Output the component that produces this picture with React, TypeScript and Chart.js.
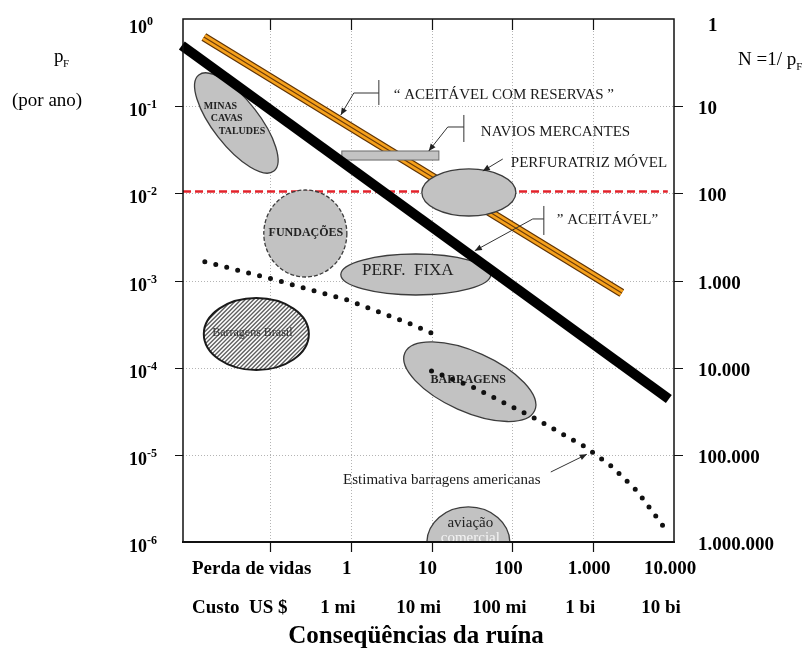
import React, { useEffect, useRef } from 'react';
import { Chart, registerables } from 'chart.js';

Chart.register(...registerables);

const SERIF = '"Liberation Serif", "Times New Roman", Times, serif';

// ---- axis decades -------------------------------------------------------
const lifeValues = [1, 10, 100, 1000, 10000];
const lifeLabels = ['1', '10', '100', '1.000', '10.000'];
const costLabels = ['1 mi', '10 mi', '100 mi', '1 bi', '10 bi'];
const gridLifeValues = [0.1, 1, 10, 100, 1000];
const probExponents = [0, -1, -2, -3, -4, -5, -6];
const returnPeriodLabels = ['1', '10', '100', '1.000', '10.000', '100.000', '1.000.000'];

// ---- criteria lines (consequence, annual probability) -------------------
const acceptableLimit = [
  { x: 0.0081, y: 0.497 },
  { x: 8630, y: 4.37e-5 },
];
const acceptableWithReserves = [
  { x: 0.01517, y: 0.6216 },
  { x: 2259, y: 7.19e-4 },
];
const referenceLevel = [
  { x: 0.00838, y: 0.0105 },
  { x: 8380, y: 0.0105 },
];

// ---- dam failure trends ---------------------------------------------------
const damTrendUpper = [
  { x: 0.0156, y: 0.001644 },
  { x: 0.102, y: 0.00105 },
  { x: 0.91, y: 0.000597 },
  { x: 5.53, y: 0.000317 },
  { x: 9.97, y: 0.00025 },
];
const usDamsEstimate = [
  { x: 9.97, y: 9.16e-5 },
  { x: 33.6, y: 5.89e-5 },
  { x: 189, y: 2.63e-5 },
  { x: 787, y: 1.24e-5 },
  { x: 1714, y: 7.31e-6 },
  { x: 3466, y: 3.88e-6 },
  { x: 7690, y: 1.44e-6 },
];

// ---- activity regions: centre (consequence, probability) -----------------
const regionCenters = {
  minas: { x: 0.0383, y: 0.0641 },
  fundacoes: { x: 0.2735, y: 0.00346 },
  perfMovel: { x: 28.9, y: 0.01023 },
  perfFixa: { x: 6.37, y: 0.001172 },
  barragensBrasil: { x: 0.0677, y: 2.43e-4 },
  barragens: { x: 29.7, y: 6.9e-5 },
  aviacao: { x: 28.5, y: 9.75e-7 },
};
const merchantShips = { x0: 0.774, x1: 12.3, yTop: 0.0306, yBottom: 0.0241 };

// region outline sizes, in decades of each axis
const regionShapes = [
  { id: 'minas', rx: 0.755, ry: 0.264, angle: 52 },
  { id: 'fundacoes', rx: 0.514, ry: 0.499, dashed: true },
  { id: 'perfMovel', rx: 0.582, ry: 0.27 },
  { id: 'perfFixa', rx: 0.928, ry: 0.235 },
  { id: 'barragensBrasil', rx: 0.65, ry: 0.413, hatch: true },
  { id: 'barragens', rx: 0.879, ry: 0.344, angle: 24 },
  { id: 'aviacao', rx: 0.514, ry: 0.413 },
];

// region captions, placed in log10 coordinates
const regionCaptions = [
  { text: 'MINAS', lx: -1.819, ly: -0.998, font: 'bold 10px', align: 'left', color: '#222' },
  { text: 'CAVAS', lx: -1.733, ly: -1.136, font: 'bold 10px', align: 'left', color: '#222' },
  { text: 'TALUDES', lx: -1.634, ly: -1.285, font: 'bold 10px', align: 'left', color: '#222' },
  { text: 'FUNDAÇÕES', lx: -0.556, ly: -2.458, font: 'bold 12px', align: 'center', color: '#222' },
  { text: 'PERF.  FIXA', lx: 0.705, ly: -2.891, font: '17px', align: 'center', color: '#222' },
  { text: 'Barragens Brasil', lx: -1.219, ly: -3.602, font: '12px', align: 'center', color: '#333' },
  { text: 'BARRAGENS', lx: 1.454, ly: -4.141, font: 'bold 12px', align: 'center', color: '#222' },
  { text: 'aviação', lx: 1.479, ly: -5.782, font: '15px', align: 'center', color: '#222' },
  { text: 'comercial', lx: 1.479, ly: -5.954, font: '15px', align: 'center', color: '#f4f4f4' },
];

// callout texts and leader lines, in log10 coordinates
const calloutTexts = [
  { text: '\u201C ACEITÁVEL COM RESERVAS \u201D', lx: 0.532, ly: -0.872, align: 'left' },
  { text: 'NAVIOS MERCANTES', lx: 1.609, ly: -1.296, align: 'left' },
  { text: 'PERFURATRIZ MÓVEL', lx: 1.98, ly: -1.652, align: 'left' },
  { text: '\u201D ACEITÁVEL\u201D', lx: 2.55, ly: -2.306, align: 'left' },
  { text: 'Estimativa barragens americanas', lx: 1.126, ly: -5.289, align: 'center' },
];
const calloutBars = [
  [[0.347, -0.7], [0.347, -0.987]],
  [[1.399, -1.101], [1.399, -1.411]],
  [[2.389, -2.145], [2.389, -2.478]],
];
const calloutArrows = [
  [[0.347, -0.849], [0.037, -0.849], [-0.124, -1.101]],
  [[1.399, -1.239], [1.2, -1.239], [0.965, -1.514]],
  [[1.881, -1.606], [1.634, -1.744]],
  [[2.389, -2.294], [2.252, -2.294], [1.535, -2.658]],
  [[2.475, -5.197], [2.921, -4.994]],
];

const X_MIN = Math.pow(10, -2.077);
const X_MAX = 10000;
const Y_MIN = 1e-6;
const Y_MAX = 1;

function fmtFont(f: string) {
  return `${f} ${SERIF}`;
}

const riskPlugin = {
  id: 'riskChart',
  beforeDatasetsDraw(chart: any) {
    const { ctx, chartArea: a, scales } = chart;
    ctx.save();
    ctx.strokeStyle = '#b4b4b4';
    ctx.lineWidth = 1;
    ctx.setLineDash([1, 2]);
    gridLifeValues.forEach((v) => {
      const x = Math.round(scales.x.getPixelForValue(v)) + 0.5;
      ctx.beginPath();
      ctx.moveTo(x, a.top);
      ctx.lineTo(x, a.bottom);
      ctx.stroke();
    });
    probExponents.forEach((e) => {
      if (e === 0 || e === -6) return;
      const y = Math.round(scales.y.getPixelForValue(Math.pow(10, e))) + 0.5;
      ctx.beginPath();
      ctx.moveTo(a.left, y);
      ctx.lineTo(a.right, y);
      ctx.stroke();
    });
    ctx.restore();
  },
  afterDatasetDraw(chart: any, args: any) {
    if (args.index !== 3) return;
    const { ctx, chartArea: a, scales } = chart;
    const X = (v: number) => scales.x.getPixelForValue(v);
    const Y = (v: number) => scales.y.getPixelForValue(v);
    ctx.save();
    ctx.beginPath();
    ctx.rect(a.left, a.top, a.right - a.left, a.bottom - a.top);
    ctx.clip();

    regionShapes.forEach((s: any) => {
      const c = (regionCenters as any)[s.id];
      const cx = X(c.x);
      const cy = Y(c.y);
      const rx = X(c.x * Math.pow(10, s.rx)) - cx;
      const ry = cy - Y(c.y * Math.pow(10, s.ry));
      const rot = ((s.angle || 0) * Math.PI) / 180;
      const path = () => {
        ctx.beginPath();
        ctx.ellipse(cx, cy, rx, ry, rot, 0, Math.PI * 2);
      };
      path();
      if (s.hatch) {
        ctx.fillStyle = '#ffffff';
        ctx.fill();
        ctx.save();
        ctx.clip();
        ctx.strokeStyle = '#5e5e5e';
        ctx.lineWidth = 1.4;
        for (let d = -rx - ry - 20; d < rx + ry + 20; d += 4.2) {
          ctx.beginPath();
          ctx.moveTo(cx + d - 120, cy + 120);
          ctx.lineTo(cx + d + 120, cy - 120);
          ctx.stroke();
        }
        ctx.restore();
        path();
        ctx.strokeStyle = '#1a1a1a';
        ctx.lineWidth = 2;
        ctx.stroke();
      } else {
        ctx.fillStyle = '#c2c2c2';
        ctx.fill();
        ctx.strokeStyle = '#3c3c3c';
        ctx.lineWidth = 1.3;
        if (s.dashed) ctx.setLineDash([4, 2]);
        ctx.stroke();
        ctx.setLineDash([]);
      }
    });

    // merchant ships bar
    const bx0 = X(merchantShips.x0);
    const bx1 = X(merchantShips.x1);
    const by0 = Y(merchantShips.yTop);
    const by1 = Y(merchantShips.yBottom);
    ctx.fillStyle = '#c3c3c3';
    ctx.fillRect(bx0, by0, bx1 - bx0, by1 - by0);
    ctx.strokeStyle = '#6a6a6a';
    ctx.lineWidth = 1;
    ctx.strokeRect(bx0, by0, bx1 - bx0, by1 - by0);

    // captions inside regions
    ctx.textBaseline = 'middle';
    regionCaptions.forEach((c) => {
      ctx.font = fmtFont(c.font);
      ctx.fillStyle = c.color;
      ctx.textAlign = c.align as CanvasTextAlign;
      ctx.fillText(c.text, X(Math.pow(10, c.lx)), Y(Math.pow(10, c.ly)));
    });
    ctx.restore();
  },
  afterDatasetsDraw(chart: any) {
    const { ctx, chartArea: a, scales } = chart;
    const X = (v: number) => scales.x.getPixelForValue(v);
    const Y = (v: number) => scales.y.getPixelForValue(v);
    const P = (p: number[]) => [X(Math.pow(10, p[0])), Y(Math.pow(10, p[1]))];
    ctx.save();

    // leader lines
    ctx.strokeStyle = '#333';
    ctx.fillStyle = '#222';
    ctx.lineWidth = 1;
    calloutBars.forEach((bar) => {
      const [x0, y0] = P(bar[0]);
      const [x1, y1] = P(bar[1]);
      ctx.beginPath();
      ctx.moveTo(x0, y0);
      ctx.lineTo(x1, y1);
      ctx.stroke();
    });
    calloutArrows.forEach((pts) => {
      const pp = pts.map(P);
      ctx.beginPath();
      pp.forEach(([x, y], i) => (i ? ctx.lineTo(x, y) : ctx.moveTo(x, y)));
      ctx.stroke();
      const [xa, ya] = pp[pp.length - 2];
      const [xb, yb] = pp[pp.length - 1];
      const ang = Math.atan2(yb - ya, xb - xa);
      const len = 7;
      const w = 3;
      ctx.beginPath();
      ctx.moveTo(xb, yb);
      ctx.lineTo(xb - len * Math.cos(ang) + w * Math.sin(ang), yb - len * Math.sin(ang) - w * Math.cos(ang));
      ctx.lineTo(xb - len * Math.cos(ang) - w * Math.sin(ang), yb - len * Math.sin(ang) + w * Math.cos(ang));
      ctx.closePath();
      ctx.fill();
    });

    ctx.textBaseline = 'middle';
    ctx.font = `15px ${SERIF}`;
    ctx.fillStyle = '#1a1a1a';
    calloutTexts.forEach((t) => {
      ctx.textAlign = t.align as CanvasTextAlign;
      const [x, y] = P([t.lx, t.ly]);
      ctx.fillText(t.text, x, y);
    });

    // frame
    ctx.strokeStyle = '#111';
    ctx.lineWidth = 1.5;
    ctx.strokeRect(a.left, a.top, a.right - a.left, a.bottom - a.top);
    ctx.lineWidth = 2;
    ctx.beginPath();
    ctx.moveTo(a.left - 1, a.bottom);
    ctx.lineTo(a.right + 1, a.bottom);
    ctx.stroke();

    // tick marks
    ctx.lineWidth = 1.2;
    gridLifeValues.forEach((v) => {
      const x = Math.round(X(v)) + 0.5;
      ctx.beginPath();
      ctx.moveTo(x, a.bottom);
      ctx.lineTo(x, a.bottom + 10);
      ctx.moveTo(x, a.top);
      ctx.lineTo(x, a.top + 11);
      ctx.stroke();
    });
    probExponents.forEach((e) => {
      if (e === 0 || e === -6) return;
      const y = Math.round(Y(Math.pow(10, e))) + 0.5;
      ctx.beginPath();
      ctx.moveTo(a.left - 8, y);
      ctx.lineTo(a.left, y);
      ctx.moveTo(a.right, y);
      ctx.lineTo(a.right + 9, y);
      ctx.stroke();
    });

    // left axis: powers of ten
    ctx.fillStyle = '#000';
    ctx.textAlign = 'left';
    ctx.textBaseline = 'alphabetic';
    probExponents.forEach((e) => {
      const y = Y(Math.pow(10, e));
      const base = Math.max(y + 10, a.top + 14);
      ctx.font = `bold 18px ${SERIF}`;
      ctx.fillText('10', 129, base);
      const w = ctx.measureText('10').width;
      ctx.font = `bold 12px ${SERIF}`;
      ctx.fillText(String(e), 129 + w, base - 8);
    });

    // right axis: return period N = 1/pF
    ctx.font = `bold 19px ${SERIF}`;
    probExponents.forEach((e, i) => {
      const y = Y(Math.pow(10, e));
      const base = Math.max(y + 8, a.top + 12);
      ctx.fillText(returnPeriodLabels[i], i === 0 ? 708 : 698, base);
    });

    // bottom rows
    ctx.font = `bold 19px ${SERIF}`;
    ctx.textAlign = 'left';
    ctx.fillText('Perda de vidas', 192, 574);
    ctx.fillText('Custo  US $', 192, 613);
    ctx.textAlign = 'center';
    lifeValues.forEach((v, i) => {
      const x = X(v);
      ctx.fillText(lifeLabels[i], x - 4, 574);
      ctx.fillText(costLabels[i], x - 13, 613);
    });
    ctx.font = `bold 25px ${SERIF}`;
    ctx.fillText('Conseqüências da ruína', 416, 643);

    // axis titles
    ctx.textAlign = 'left';
    ctx.font = `19px ${SERIF}`;
    ctx.fillText('p', 54, 62);
    ctx.font = `11px ${SERIF}`;
    ctx.fillText('F', 63, 67);
    ctx.font = `19px ${SERIF}`;
    ctx.fillText('(por ano)', 12, 106);
    ctx.fillText('N =1/ p', 738, 65);
    const nw = ctx.measureText('N =1/ p').width;
    ctx.font = `11px ${SERIF}`;
    ctx.fillText('F', 738 + nw, 70);

    ctx.restore();
  },
};

export default function App() {
  const canvasRef = useRef<HTMLCanvasElement | null>(null);

  useEffect(() => {
    const canvas = canvasRef.current;
    if (!canvas) return;
    const chart = new Chart(canvas, {
      type: 'line',
      data: {
        datasets: [
          {
            data: referenceLevel,
            borderColor: '#e3232b',
            borderWidth: 2.4,
            borderDash: [8, 4],
            pointRadius: 0,
            order: 9,
          },
          {
            data: acceptableWithReserves,
            borderColor: '#5e3204',
            borderWidth: 9,
            pointRadius: 0,
            order: 8,
          },
          {
            data: acceptableWithReserves,
            borderColor: '#f6a11c',
            borderWidth: 6.6,
            pointRadius: 0,
            order: 7,
          },
          {
            data: acceptableWithReserves,
            borderColor: '#6b3a08',
            borderWidth: 1.1,
            pointRadius: 0,
            order: 6,
          },
          {
            data: acceptableLimit,
            borderColor: '#000',
            borderWidth: 10,
            pointRadius: 0,
            clip: false,
            order: 5,
          },
          {
            data: damTrendUpper,
            borderColor: '#111',
            borderWidth: 5,
            borderDash: [0, 11.3],
            borderCapStyle: 'round',
            pointRadius: 0,
            order: 4,
          },
          {
            data: usDamsEstimate,
            borderColor: '#111',
            borderWidth: 5,
            borderDash: [0, 11.3],
            borderCapStyle: 'round',
            pointRadius: 0,
            order: 3,
          },
        ] as any,
      },
      options: {
        responsive: false,
        animation: false,
        events: [],
        layout: { padding: { left: 183, top: 19, right: 134, bottom: 106 } },
        elements: { line: { tension: 0, fill: false } },
        plugins: { legend: { display: false }, tooltip: { enabled: false } },
        scales: {
          x: { type: 'logarithmic', min: X_MIN, max: X_MAX, display: false },
          y: { type: 'logarithmic', min: Y_MIN, max: Y_MAX, display: false },
        },
      },
      plugins: [riskPlugin],
    });
    return () => chart.destroy();
  }, []);

  return (
    <div style={{ position: 'absolute', left: 0, top: 0, width: 808, height: 648, background: '#fff' }}>
      <canvas ref={canvasRef} width={808} height={648} />
    </div>
  );
}
